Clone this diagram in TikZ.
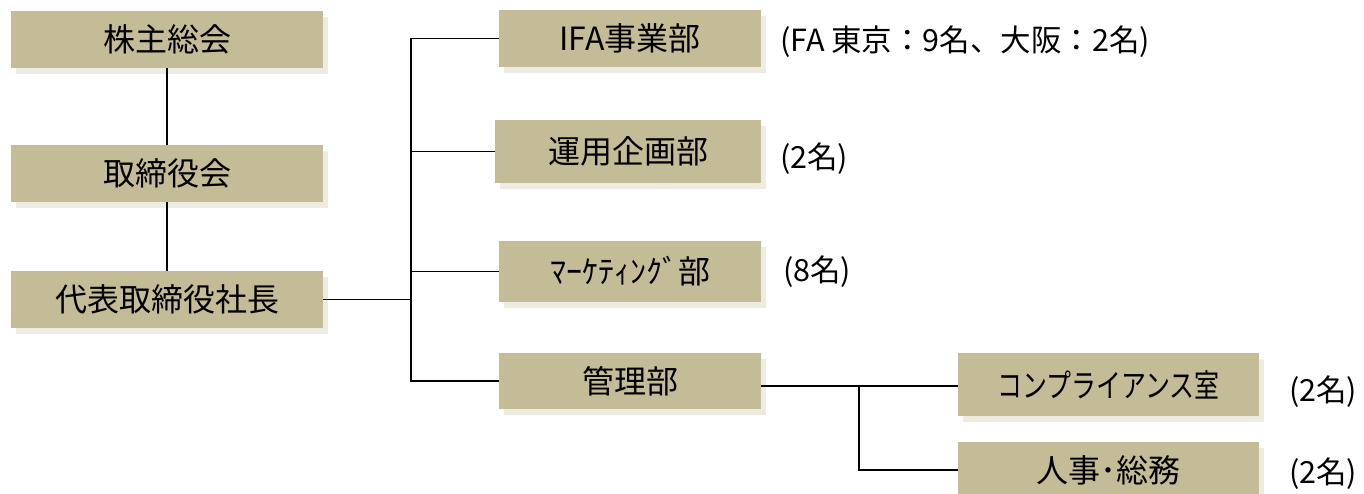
\documentclass[tikz,border=0pt]{standalone}
\usepackage{fontspec}
\usepackage{graphicx}
\setmainfont{Noto Sans CJK JP}
\usetikzlibrary{shadows}
\definecolor{boxc}{HTML}{C4BC96}
\definecolor{shadc}{HTML}{EEECE1}
\tikzset{
  box/.style={fill=boxc, inner sep=0pt, font=\fontsize{32}{36}\selectfont,
    drop shadow={shadow xshift=5pt, shadow yshift=-6pt, fill=shadc, opacity=1}},
  lbl/.style={anchor=west, inner sep=0pt, font=\fontsize{30.5}{34}\selectfont},
  conn/.style={line width=1.9pt, black}
}
\begin{document}
\begin{tikzpicture}[x=1pt,y=-1pt]
\useasboundingbox (0,0) rectangle (1364,494);
\clip (0,0) rectangle (1364,494);
% left column
\node[box, minimum width=312pt, minimum height=57pt] (kabu) at (167,39.5) {株主総会};
\node[box, minimum width=312pt, minimum height=57pt] (tori) at (167,173.5) {取締役会};
\node[box, minimum width=312pt, minimum height=57pt] (dai) at (167,299.5) {代表取締役社長};
% departments
\node[box, minimum width=262pt, minimum height=57pt] (ifa) at (630,38.5) {IFA事業部};
\node[box, minimum width=266pt, minimum height=63pt] (unyo) at (628,151.5) {運用企画部};
\node[box, minimum width=262pt, minimum height=61pt] (mkt) at (630,271.5) {ﾏｰｹﾃｨﾝｸﾞ部};
\node[box, minimum width=262pt, minimum height=56pt] (kanri) at (630,381) {管理部};
\node[box, minimum width=301pt, minimum height=63pt] (comp) at (1108.5,384.5) {\scalebox{0.78}[1]{コンプライアンス室}};
\node[box, minimum width=301pt, minimum height=56pt] (jinji) at (1108.5,470) {人事･総務};
% labels
\node[lbl] (l1) at (780,42) {(FA 東京：9名、大阪：2名)};
\node[lbl] (l2) at (780,159) {(2名)};
\node[lbl] (l3) at (783,272) {(8名)};
\node[lbl] (l4) at (1289,392) {(2名)};
\node[lbl] (l5) at (1289,474) {(2名)};
% connectors
\coordinate (tr) at (411,0);
\coordinate (j) at (859,386);
\draw[conn] (kabu.south) -- (tori.north);
\draw[conn] (tori.south) -- (dai.north);
\draw[conn] (dai.east) -- (tr |- dai.east);
\draw[conn] (ifa.west) -| (tr |- kanri.west) -- (kanri.west);
\draw[conn] (unyo.west) -- (tr |- unyo.west);
\draw[conn] (mkt.west) -- (tr |- mkt.west);
\draw[conn] (kanri.east |- j) -- (j) -- (j -| comp.west);
\draw[conn] (j) |- (jinji.west);
\end{tikzpicture}
\end{document}
